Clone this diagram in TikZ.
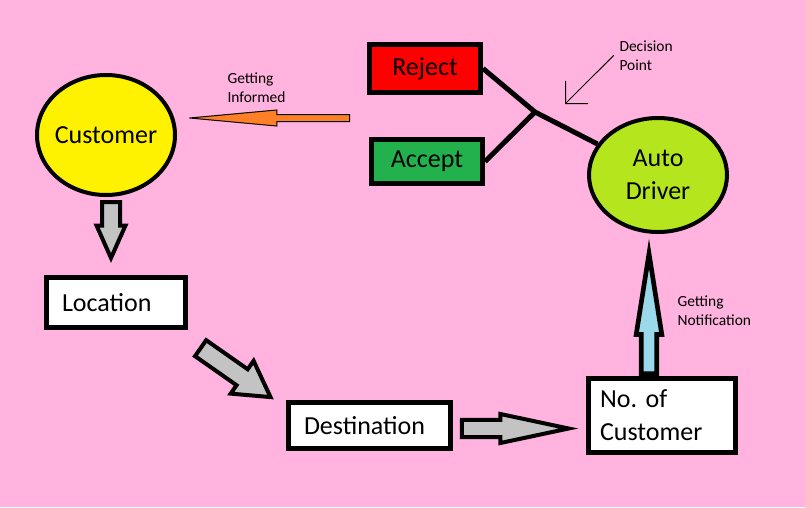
\documentclass[tikz,border=0pt]{standalone}
\usepackage{fontspec}
\setmainfont{Carlito}
\usetikzlibrary{shapes.geometric,shapes.arrows,arrows.meta,calc}

\definecolor{bgpink}{RGB}{255,179,222}
\definecolor{custyellow}{RGB}{255,242,0}
\definecolor{rejectred}{RGB}{255,0,0}
\definecolor{acceptgreen}{RGB}{34,177,76}
\definecolor{autolime}{RGB}{181,230,29}
\definecolor{informorange}{RGB}{255,127,39}
\definecolor{arrowgray}{RGB}{195,195,195}
\definecolor{notifblue}{RGB}{153,217,234}

\tikzset{every picture/.style={line width=0.75pt}}
\tikzset{
  bigtext/.style={font=\fontsize{19.5}{24.75}\selectfont},
  smalltext/.style={font=\fontsize{11.6}{14.25}\selectfont, inner sep=0pt, align=left},
  roundnode/.style={ellipse, draw=black, line width=3pt, bigtext, inner sep=0pt, align=center},
  boxnode/.style={rectangle, draw=black, line width=3.75pt, bigtext},
  decline/.style={line width=3.75pt, line join=round},
  blockarrow/.style={single arrow, draw=black, line width=3pt, fill=arrowgray, inner xsep=0pt,
    single arrow head indent=0pt, pos=0, anchor=tail},
}

\begin{document}
\begin{tikzpicture}[x=0.75pt,y=0.75pt,yscale=-1,xscale=1]
%set diagram left start at 0, and has height of 507
\useasboundingbox (0,0) rectangle (805,507);
\fill[bgpink] (0,0) rectangle (805,507);

%Shape: Ellipse [customer]
\node[roundnode, fill=custyellow, minimum width=103.5pt, minimum height=90pt] (customer) at (106,135) {\makebox[0pt]{Customer}};
%Shape: Rectangle [reject]
\node[boxnode, fill=rejectred, minimum width=83.25pt, minimum height=36pt] (reject) at (425,68.5) {Reject};
%Shape: Rectangle [accept]
\node[boxnode, fill=acceptgreen, minimum width=83.25pt, minimum height=33pt] (accept) at (427,161.5) {Accept};
%Shape: Ellipse [auto]
\node[roundnode, fill=autolime, minimum width=103.5pt, minimum height=85.5pt] (auto) at (658,175) {Auto\\Driver};
%Shape: Rectangle [location]
\node[boxnode, fill=white, text width=81pt, inner xsep=11.6pt, align=left, minimum height=37.5pt] (location) at (116,302.5) {Location};
%Shape: Rectangle [destination]
\node[boxnode, fill=white, text width=98.25pt, inner xsep=11.6pt, align=left, minimum height=34.5pt] (destination) at (369.5,425.5) {Destination};
%Shape: Rectangle [nocust]
\node[boxnode, fill=white, text width=93pt, inner xsep=8.6pt, align=left, minimum height=55.5pt] (nocust) at (662,415.5) {No.\ of\\Customer};

%Straight Lines [decision]
\coordinate (dp) at (535,112);
\draw[decline] (reject.east) -- (dp) -- (accept.east);
\draw[decline] (dp) -- (auto);

% Text Node
\node[smalltext, anchor=north west] (informtext) at (227,72) {Getting\\Informed};
% Text Node
\node[smalltext, anchor=north west] (dptext) at (619,40) {Decision\\Point};
% Text Node
\node[smalltext, anchor=north west] (notiftext) at (677,295) {Getting\\Notification};

%Straight Lines [decision point mark]
\coordinate (dpmark) at (565,104);
\draw[-{Straight Barb[length=12pt,width=24pt]}] ([xshift=-4pt]dptext.west) -- (dpmark);

%Block Arrow [getting informed]
\coordinate (informfrom) at (350,118);
\path (informfrom) -- (informfrom -| customer.east)
  node[blockarrow, rotate=180, fill=informorange, line width=0.75pt, inner ysep=2.25pt,
    minimum width=11.25pt, minimum height=120pt,
    single arrow head extend=3.4pt, single arrow tip angle=10.5] {};
%Block Arrow [customer to location]
\path ($(customer.south)+(5,3)$) -- ($(location.north)+(-5,0)$)
  node[blockarrow, rotate=-90, inner ysep=5.25pt, minimum width=18.75pt, minimum height=42pt,
    single arrow head extend=4.1pt, single arrow tip angle=48] {};
%Block Arrow [location to destination]
\path ($(location.south east)+(11,17)$) -- (destination.north west)
  node[blockarrow, rotate=-35, inner ysep=5.8pt, minimum width=27pt, minimum height=64pt,
    single arrow head extend=7.7pt, single arrow tip angle=60] {};
%Block Arrow [destination to nocust]
\path ($(destination.east)+(7,3)$) -- ($(destination.east -| nocust.west)+(0,3)$)
  node[blockarrow, inner ysep=4.9pt, minimum width=18.75pt, minimum height=80pt,
    single arrow head extend=4.5pt, single arrow tip angle=24] {};
%Block Arrow [getting notification]
\path ($(nocust.north)+(-13,0)$) -- ($(auto.south -| nocust.north)+(-13,0)$)
  node[blockarrow, rotate=90, fill=notifblue, line width=3.5pt, inner ysep=4.1pt,
    minimum width=15.75pt, minimum height=90pt,
    single arrow head extend=3.75pt, single arrow tip angle=18] {};

\end{tikzpicture}
\end{document}
